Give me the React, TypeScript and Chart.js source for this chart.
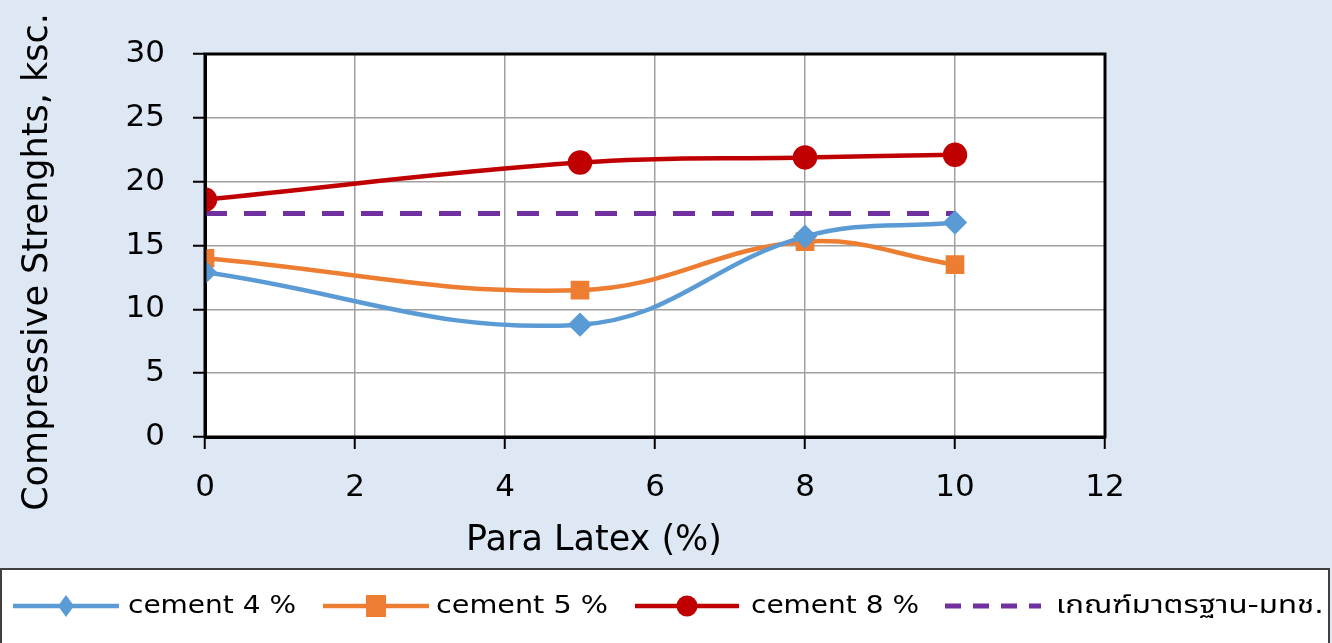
import React, { useEffect, useRef } from "react";
import { Chart, registerables } from "chart.js";

Chart.register(...registerables);

const xValues = [0, 5, 8, 10];
const cement4 = [12.9, 8.8, 15.7, 16.8];
const cement5 = [14.0, 11.5, 15.3, 13.5];
const cement8 = [18.6, 21.5, 21.9, 22.1];
const standardX = [0, 10];
const standardY = [17.5, 17.5];
const seriesLabels = ["cement 4 %", "cement 5 %", "cement 8 %", "เกณฑ์มาตรฐาน-มทช."];
const xTitle = "Para Latex (%)";
const yTitle = "Compressive Strenghts, ksc.";

const FONT = "'DejaVu Sans', 'Noto Sans', sans-serif";
const LEGEND_FONT = "'DejaVu Sans', 'Noto Sans', 'Noto Sans Thai', sans-serif";

const toPts = (xs: number[], ys: number[]) => xs.map((x, i) => ({ x, y: ys[i] }));

const bgPlugin = {
  id: "bgPlugin",
  beforeDraw(chart: any) {
    const { ctx, width, height, chartArea } = chart;
    ctx.save();
    ctx.fillStyle = "#dde8f4";
    ctx.fillRect(0, 0, width, height);
    ctx.fillStyle = "#ffffff";
    ctx.fillRect(chartArea.left, chartArea.top, chartArea.right - chartArea.left, chartArea.bottom - chartArea.top);
    ctx.restore();
  },
  afterDraw(chart: any) {
    const { ctx, chartArea } = chart;
    ctx.save();
    ctx.strokeStyle = "#000";
    ctx.lineWidth = 3;
    ctx.strokeRect(chartArea.left, chartArea.top, chartArea.right - chartArea.left, chartArea.bottom - chartArea.top);

    // axis titles (placed as in the Excel original)
    ctx.fillStyle = "#000";
    ctx.font = `35px ${FONT}`;
    ctx.textAlign = "center";
    ctx.textBaseline = "middle";
    ctx.fillText(xTitle, 594, 541);
    ctx.save();
    ctx.translate(38, 262);
    ctx.rotate(-Math.PI / 2);
    ctx.font = `35px ${FONT}`;
    const yw = ctx.measureText(yTitle).width || 1;
    ctx.scale(Math.min(1, 505 / yw), 1);
    ctx.fillText(yTitle, 0, 0);
    ctx.restore();
    ctx.restore();

    // legend
    const top = 569;
    ctx.save();
    ctx.fillStyle = "#ffffff";
    ctx.fillRect(1, top, 1328, 80);
    ctx.strokeStyle = "#404040";
    ctx.lineWidth = 2;
    ctx.strokeRect(1, top, 1328, 80);
    const cy = 606;
    const items = [
      { x0: 13, x1: 119, tx: 128, w: 168 },
      { x0: 323, x1: 429, tx: 436, w: 172 },
      { x0: 635, x1: 739, tx: 751, w: 168 },
      { x0: 945, x1: 1041, tx: 1056, w: 268 },
    ];
    chart.data.datasets.forEach((ds: any, i: number) => {
      const it = items[i];
      ctx.strokeStyle = ds.borderColor;
      ctx.lineWidth = ds.borderWidth;
      ctx.setLineDash(ds.borderDash ? [16, 12] : []);
      ctx.beginPath();
      ctx.moveTo(it.x0, cy);
      ctx.lineTo(it.x1, cy);
      ctx.stroke();
      ctx.setLineDash([]);
      const mx = (it.x0 + it.x1) / 2;
      ctx.fillStyle = ds.pointBackgroundColor;
      if (ds.pointStyle === "rectRot") {
        ctx.beginPath();
        ctx.moveTo(mx, cy - 11);
        ctx.lineTo(mx + 8, cy);
        ctx.lineTo(mx, cy + 11);
        ctx.lineTo(mx - 8, cy);
        ctx.closePath();
        ctx.fill();
      } else if (ds.pointStyle === "rect") {
        ctx.fillRect(mx - 10, cy - 11, 20, 22);
      } else if (ds.pointStyle === "circle") {
        ctx.beginPath();
        ctx.arc(mx, cy, 10.5, 0, Math.PI * 2);
        ctx.fill();
      }
      ctx.fillStyle = "#000";
      ctx.font = `25px ${LEGEND_FONT}`;
      ctx.textBaseline = "middle";
      ctx.textAlign = "left";
      const mw = ctx.measureText(ds.label).width || 1;
      const sx = it.w / mw;
      ctx.save();
      ctx.translate(it.tx, cy);
      ctx.scale(sx, 1);
      ctx.fillText(ds.label, 0, 0);
      ctx.restore();
    });
    ctx.restore();
  },
};

export default function App() {
  const ref = useRef<HTMLCanvasElement | null>(null);
  useEffect(() => {
    document.body.style.margin = "0";
    const canvas = ref.current!;
    const chart = new Chart(canvas, {
      type: "line",
      data: {
        datasets: [
          {
            label: seriesLabels[0],
            data: toPts(xValues, cement4),
            borderColor: "#5b9bd5",
            backgroundColor: "#5b9bd5",
            pointBackgroundColor: "#5b9bd5",
            pointBorderColor: "#5b9bd5",
            pointStyle: "rectRot",
            pointRadius: 9,
            borderWidth: 4.5,
            tension: 0.4,
          },
          {
            label: seriesLabels[1],
            data: toPts(xValues, cement5),
            borderColor: "#ed7d31",
            backgroundColor: "#ed7d31",
            pointBackgroundColor: "#ed7d31",
            pointBorderColor: "#ed7d31",
            pointStyle: "rect",
            pointRadius: 10,
            borderWidth: 4.5,
            tension: 0.4,
          },
          {
            label: seriesLabels[2],
            data: toPts(xValues, cement8),
            borderColor: "#c00000",
            backgroundColor: "#c00000",
            pointBackgroundColor: "#c00000",
            pointBorderColor: "#c00000",
            pointStyle: "circle",
            pointRadius: 10,
            borderWidth: 4.5,
            tension: 0.4,
          },
          {
            label: seriesLabels[3],
            data: toPts(standardX, standardY),
            borderColor: "#7030a0",
            backgroundColor: "#7030a0",
            pointBackgroundColor: "#7030a0",
            pointStyle: false as any,
            pointRadius: 0,
            borderWidth: 5,
            borderDash: [22, 17],
            tension: 0,
          },
        ],
      },
      options: {
        animation: false,
        responsive: false,
        maintainAspectRatio: false,
        layout: { padding: { left: 0, top: 54, right: 227, bottom: 83 } },
        plugins: { legend: { display: false }, tooltip: { enabled: false } },
        scales: {
          x: {
            type: "linear",
            min: 0,
            max: 12,
            ticks: { stepSize: 2, color: "#000", padding: 20, font: { size: 31, family: FONT } },
            grid: { color: "#a0a0a0", lineWidth: 1.5, tickColor: "#000", tickLength: 12, tickWidth: 2 },
            border: { color: "#000", width: 3 },
            title: { display: false, text: xTitle },
            afterFit: (s: any) => { s.height = 560 - 437; },
          },
          y: {
            min: 0,
            max: 30,
            ticks: { stepSize: 5, color: "#000", padding: 28, font: { size: 31, family: FONT } },
            grid: { color: "#a0a0a0", lineWidth: 1.5, tickColor: "#000", tickLength: 12, tickWidth: 2 },
            border: { color: "#000", width: 3 },
            title: { display: false, text: yTitle },
            afterFit: (s: any) => { s.width = 205; },
          },
        },
      },
      plugins: [bgPlugin],
    } as any);
    return () => chart.destroy();
  }, []);
  return <canvas ref={ref} width={1332} height={643} style={{ display: "block" }} />;
}
